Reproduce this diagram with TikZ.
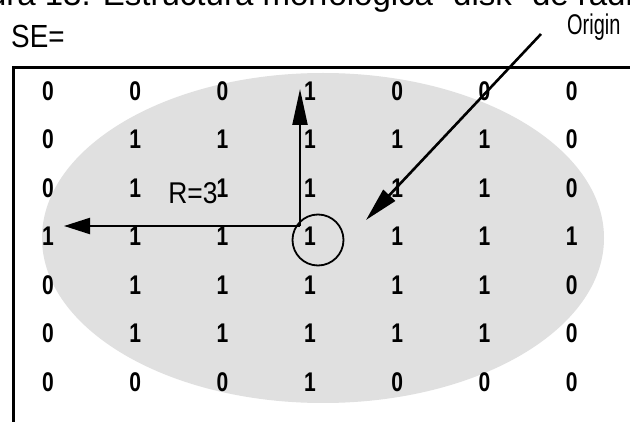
\documentclass[tikz,border=0pt]{standalone}
\usepackage{fontspec}
\setmainfont{Liberation Sans}
\usetikzlibrary{arrows.meta}
\tikzset{
  digit/.style={inner sep=0pt, font=\fontsize{27}{27}\selectfont\bfseries},
  lbl/.style={inner sep=0pt}
}
\begin{document}
\begin{tikzpicture}[x=1pt,y=-1pt]
\useasboundingbox (0,0) rectangle (630,422);
\clip (0,0) rectangle (630,422);
\fill[white] (0,0) rectangle (630,422);
% caption cut at top
\node[lbl, anchor=base west, font=\fontsize{33}{33}\selectfont] (cap) at (-58,6) {Figura 13. Estructura morfológica "disk" de radio 3};
% gray disk
\fill[black!12] (323,238) ellipse [x radius=281pt, y radius=165pt];
% frame
\draw[line width=3pt] (13,430) -- (13,68) -- (640,68);
% labels
\node[lbl, anchor=west, font=\fontsize{32}{32}\selectfont] (se) at (11,36) {\scalebox{0.87}[1]{SE=}};
\node[lbl, anchor=base west, font=\fontsize{28.5}{28.5}\selectfont] (orl) at (567,35) {\scalebox{0.7}[1]{Origin}};
% matrix
\foreach \r/\row in {1/{0,0,0,1,0,0,0},2/{0,1,1,1,1,1,0},3/{0,1,1,1,1,1,0},4/{1,1,1,1,1,1,1},5/{0,1,1,1,1,1,0},6/{0,1,1,1,1,1,0},7/{0,0,0,1,0,0,0}}{
  \foreach \v [count=\c] in \row {
    \pgfmathsetmacro{\xx}{48+87.3*(\c-1)}
    \pgfmathsetmacro{\yy}{91+48.5*(\r-1)}
    \node[digit] (m-\r-\c) at (\xx,\yy) {\scalebox{0.78}[1]{\v}};
  }
}
\node[lbl, font=\fontsize{30}{30}\selectfont] (rl) at (193,193) {\scalebox{0.88}[1]{R=3}};
% origin circle
\node[draw, circle, line width=1.8pt, minimum size=51pt, inner sep=0pt] (orig) at (318,240) {};
% arrows
\coordinate (c0) at (300,226);
\coordinate (tipU) at (300,89);
\coordinate (tipL) at (64,226);
\coordinate (os) at (541,34);
\coordinate (tipD) at (366,220);
\draw[line width=2.2pt, -{Triangle[length=36pt,width=15pt]}] (c0) -- (tipU);
\draw[line width=2.2pt, -{Triangle[length=26pt,width=16pt]}] (c0) -- (tipL);
\draw[line width=2.6pt, -{Triangle[length=34pt,width=16pt]}] (os) -- (tipD);
\end{tikzpicture}
\end{document}
